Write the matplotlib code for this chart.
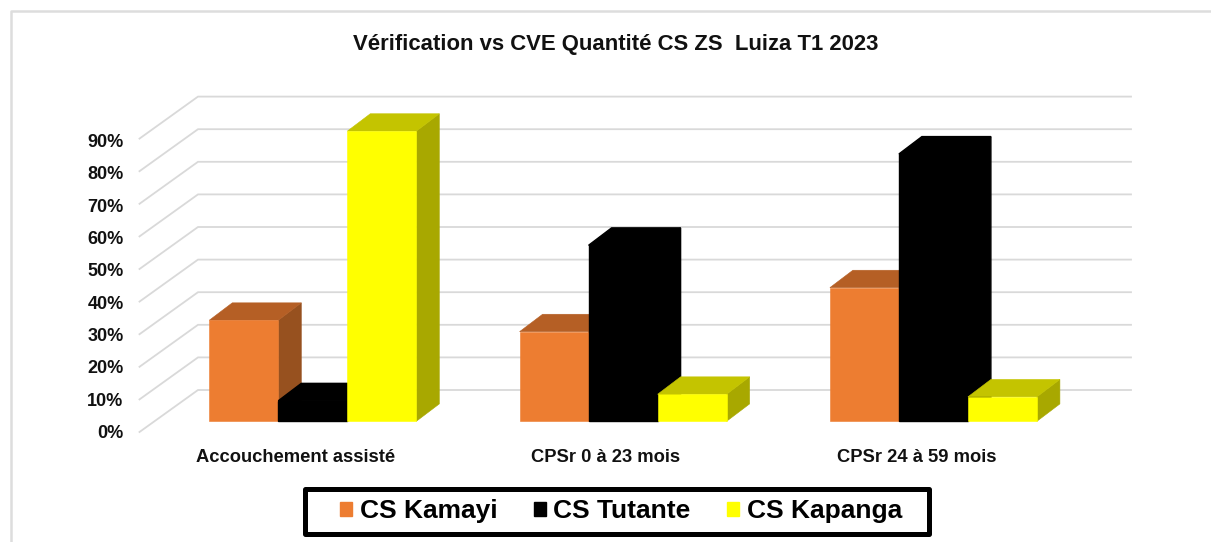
import matplotlib
matplotlib.use('Agg')
import matplotlib.pyplot as plt
from matplotlib.patches import Patch, Rectangle

plt.rcParams['font.family'] = ['Liberation Sans', 'DejaVu Sans']

categories = ['Accouchement assisté', 'CPSr 0 à 23 mois', 'CPSr 24 à 59 mois']
series_names = ['CS Kamayi', 'CS Tutante', 'CS Kapanga']
kamayi = [31, 27.5, 41]
tutante = [6.3, 54, 82]
kapanga = [89, 8.3, 7.5]
ticks = [0, 10, 20, 30, 40, 50, 60, 70, 80, 90]

front_colors = ['#ED7D31', '#000000', '#FFFF00']
top_colors = ['#B55F25', '#000000', '#C4C400']
side_colors = ['#97511F', '#000000', '#A8A800']
edge_widths = [0.4, 1.0, 0.4]

W, H = 1211, 542
group_px = 310.3
bar_px = 69
y_px = 3.26      # pixels for one percent
x0_px = 312.8    # centre of first group
y0_px = 421.3    # floor of the bars


def to_x(px):
    return (px - x0_px) / group_px


def to_y(px):
    return (y0_px - px) / y_px


fig = plt.figure(figsize=(W / 100, H / 100), dpi=100)
ax = fig.add_axes([0, 0, 1, 1])
ax.set_xlim(to_x(0), to_x(W))
ax.set_ylim(to_y(H), to_y(0))
ax.axis('off')

# outer frame of the chart
ax.plot([to_x(11), to_x(11), to_x(W)], [to_y(H), to_y(11), to_y(11)], color='#DDDDDD', lw=1.8)

# walls: slanted part then the back line
bar_w = bar_px / group_px
dep_x = 23 / group_px
dep_y = 17.4 / y_px
for t in ticks:
    xs = [to_x(139.5), to_x(198), to_x(1131)]
    ys = [t + to_y(432), t + to_y(390), t + to_y(390)]
    ax.plot(xs, ys, color='#D9D9D9', lw=1.3, solid_joinstyle='miter', zorder=1)

    ax.text(to_x(123.5), t * 32.35 / 32.6 + to_y(433.5), f'{t}%', ha='right', va='center',
            fontsize=13, fontweight='bold', color='#111111')

for g, cat in enumerate(categories):
    for s, values in enumerate([kamayi, tutante, kapanga]):
        v = values[g]
        x = g + (s - 1.5) * bar_w
        z = 2 + g * 3 + s
        lw = edge_widths[s]
        ax.fill([x + bar_w, x + bar_w + dep_x, x + bar_w + dep_x, x + bar_w],
                [0, dep_y, v + dep_y, v], fc=side_colors[s], ec=side_colors[s], lw=lw, zorder=z)
        ax.fill([x, x + dep_x, x + bar_w + dep_x, x + bar_w],
                [v, v + dep_y, v + dep_y, v], fc=top_colors[s], ec=top_colors[s], lw=lw, zorder=z)
        ax.fill([x, x + bar_w, x + bar_w, x],
                [0, 0, v, v], fc=front_colors[s], ec=front_colors[s], lw=lw, zorder=z)
    ax.text(g - 0.055, to_y(457.5), cat, ha='center', va='center', fontsize=13.2,
            fontweight='bold', color='#111111')

ax.text(to_x(616), to_y(44.5), 'Vérification vs CVE Quantité CS ZS  Luiza T1 2023',
        ha='center', va='center', fontsize=15.9, fontweight='bold', color='#111111')

# legend frame is wider than the entries, so it is drawn apart
box = Rectangle((to_x(305), to_y(534)), to_x(929) - to_x(305), to_y(489) - to_y(534),
                fc='white', ec='black', lw=3.6, joinstyle='round', zorder=30)
ax.add_patch(box)

handles = [Patch(color=c, label=n) for c, n in zip(front_colors, series_names)]
leg = fig.legend(handles=handles, ncol=3, loc='center',
                 bbox_to_anchor=(621 / W, 1 - 511 / H), fontsize=19,
                 handlelength=0.45, handleheight=0.45, handletextpad=0.3,
                 columnspacing=1.38, borderpad=0, frameon=False)
for txt in leg.get_texts():
    txt.set_fontweight('bold')
leg.set_zorder(40)

fig.savefig('out.png', dpi=100)
